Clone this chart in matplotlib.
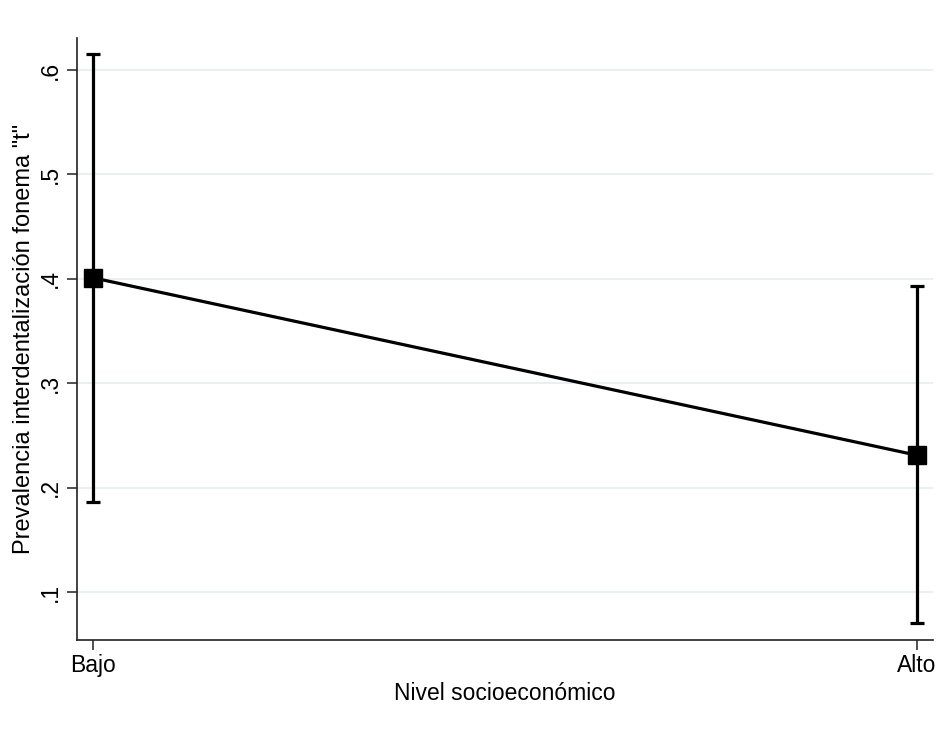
import matplotlib
matplotlib.use("Agg")
import matplotlib.pyplot as plt

# predictive margins by socioeconomic level, with 95% CI
levels = ["Bajo", "Alto"]
margin = [0.401, 0.231]
ci_low = [0.186, 0.070]
ci_high = [0.615, 0.393]
yticks = [0.1, 0.2, 0.3, 0.4, 0.5, 0.6]
ytick_labels = [".1", ".2", ".3", ".4", ".5", ".6"]

plt.rcParams["font.family"] = ["Liberation Sans", "DejaVu Sans"]

fig = plt.figure(figsize=(9.44, 7.32), dpi=100)
ax = fig.add_axes([0.0816, 0.1257, 0.9068, 0.8223])

x = list(range(len(levels)))
err = [[m - lo for m, lo in zip(margin, ci_low)],
       [hi - m for m, hi in zip(margin, ci_high)]]

ax.errorbar(x, margin, yerr=err, color="black", lw=2.3, elinewidth=2.3,
            capsize=5, capthick=2.3, marker="s", markersize=12.5,
            markerfacecolor="black", markeredgecolor="black", zorder=3)

ax.set_xlim(-0.0194, 1.0194)
ax.set_ylim(0.054, 0.6307)
ax.set_xticks(x)
ax.set_xticklabels(levels, fontsize=16.5)
ax.set_yticks(yticks)
ax.set_yticklabels(ytick_labels, fontsize=16.5, rotation=90, va="center")

ax.grid(axis="y", color="#e6eef0", lw=1.2, zorder=0)
ax.set_axisbelow(True)
for side in ("top", "right"):
    ax.spines[side].set_visible(False)
for side in ("left", "bottom"):
    ax.spines[side].set_color("#222222")
    ax.spines[side].set_linewidth(1.2)
ax.tick_params(axis="both", length=7, width=1.1, color="#222222")
ax.tick_params(axis="y", pad=4)
ax.tick_params(axis="x", pad=3)

ax.set_xlabel("Nivel socioeconómico", fontsize=16.5, labelpad=4)
ax.set_ylabel('Prevalencia interdentalización fonema "t"', fontsize=17, labelpad=2.5)

fig.savefig("out.png", dpi=100, facecolor="white")
